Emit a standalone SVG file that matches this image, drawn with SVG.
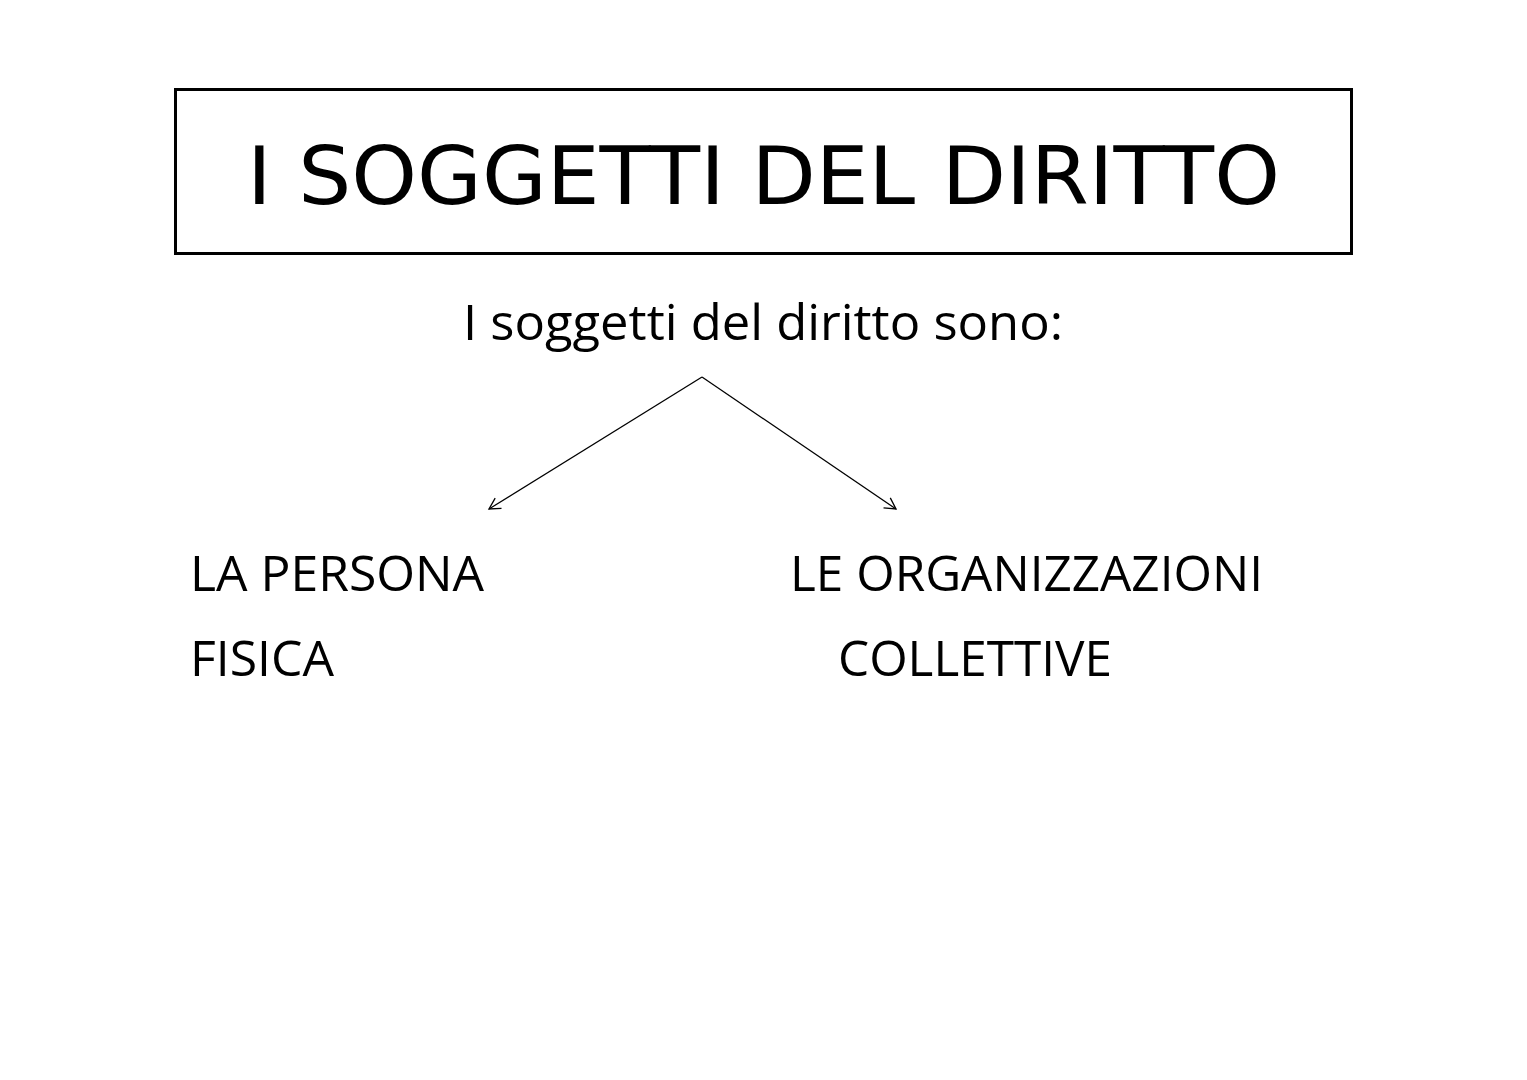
<svg xmlns="http://www.w3.org/2000/svg" width="1527" height="1080" viewBox="0 0 1527 1080">
<style>
.title{font-family:"DejaVu Sans",Verdana,sans-serif;font-size:80px;fill:#000}
.body{font-family:"Open Sans","Liberation Sans",sans-serif;font-size:50px;fill:#000}
.conn{stroke:#000;stroke-width:1.3;fill:none}
</style>
<defs>
<marker id="arr" markerWidth="14" markerHeight="14" refX="12" refY="7" orient="auto" markerUnits="userSpaceOnUse">
<path d="M1,1 L12,7 L1,13" fill="none" stroke="#000" stroke-width="1.3"/>
</marker>
</defs>
<rect width="1527" height="1080" fill="#fff"/>
<g id="title">
<rect x="175.5" y="89.5" width="1176" height="164" fill="none" stroke="#000" stroke-width="3"/>
<text class="title" x="247" y="204" textLength="1033" lengthAdjust="spacingAndGlyphs">I SOGGETTI DEL DIRITTO</text>
</g>
<g id="intro">
<text class="body" x="463" y="340" textLength="600" lengthAdjust="spacingAndGlyphs">I soggetti del diritto sono:</text>
</g>
<g id="persona">
<text class="body" x="190" y="591" textLength="294" lengthAdjust="spacingAndGlyphs">LA PERSONA</text>
<text class="body" x="190" y="676" textLength="144" lengthAdjust="spacingAndGlyphs">FISICA</text>
</g>
<g id="organizzazioni">
<text class="body" x="790" y="591" textLength="473" lengthAdjust="spacingAndGlyphs">LE ORGANIZZAZIONI</text>
<text class="body" x="838" y="676" textLength="274" lengthAdjust="spacingAndGlyphs">COLLETTIVE</text>
</g>
<g id="connectors">
<line class="conn" x1="702" y1="377" x2="489" y2="509" marker-end="url(#arr)"/>
<line class="conn" x1="702" y1="377" x2="896" y2="509" marker-end="url(#arr)"/>
</g>
</svg>
